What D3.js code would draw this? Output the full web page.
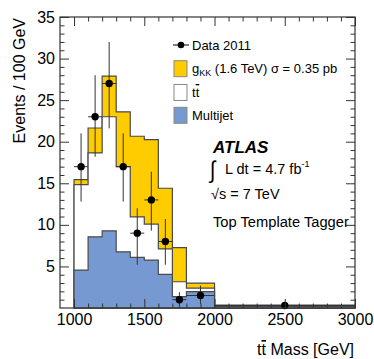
<!DOCTYPE html>
<html>
<head>
<meta charset="utf-8">
<script src="https://cdn.jsdelivr.net/npm/d3@7"></script>
<style>
  body { margin: 0; background: #fff; }
  text { font-family: "Liberation Sans", Arial, Helvetica, sans-serif; fill: #000; }
</style>
</head>
<body>
<div id="chart"></div>
<script>
// bin edges (GeV), last bins are wider; values are events / 100 GeV
const binEdges = [1000, 1100, 1200, 1300, 1400, 1500, 1600, 1700, 1800, 2000, 3000];
const multijet = [4.56, 8.56, 9.28, 6.76, 6.08, 5.76, 4.04, 1.36, 1.96, 0.2];
const ttbar    = [10.29, 10.09, 13.72, 10.24, 4.88, 4.34, 3.06, 1.8, 0.44, 0.1];
const gkk      = [0.6, 3.0, 4.9, 6.6, 9.7, 10.15, 7.3, 4.1, 0.6, 0.05];

const dataX  = [1050, 1150, 1250, 1350, 1450, 1550, 1650, 1750, 1900, 2500];
const dataY  = [17, 23, 27, 17, 9, 13, 8, 1, 1.5, 0.3];
const dataLo = [12.8, 18.2, 21.6, 12.8, 5.2, 9.3, 5.2, 0, 0.5, 0.1];
const dataHi = [21.0, 28.0, 32.0, 21.0, 12.0, 16.4, 10.7, 1.9, 2.7, 0.5];

const xMajor = [1000, 1500, 2000, 2500, 3000];
const yMajor = [5, 10, 15, 20, 25, 30, 35];

const W = 374, H = 359;
const mLeft = 60, mRight = 355, mTop = 17, mBottom = 308;

const svg = d3.select("#chart").append("svg")
    .attr("width", W)
    .attr("height", H);

const x = d3.scaleLinear().domain([900, 3000]).range([mLeft, mRight]);
const y = d3.scaleLinear().domain([0, 35]).range([mBottom, mTop]);

// stacked histograms, drawn from the top of the stack down
function stepData(vals) {
    let pts = vals.map((v, i) => ({x: binEdges[i], v: v}));
    pts.push({x: binEdges[binEdges.length - 1], v: vals[vals.length - 1]});
    return pts;
}
const area = d3.area()
    .curve(d3.curveStepAfter)
    .x(d => x(d.x))
    .y0(y(0))
    .y1(d => y(d.v));

const sumMT = multijet.map((m, i) => m + ttbar[i]);
const sumAll = sumMT.map((s, i) => s + gkk[i]);

const layers = [
    {vals: sumAll, fill: "#ffcc00"},
    {vals: sumMT, fill: "#ffffff"},
    {vals: multijet, fill: "#7799d2"}
];
layers.forEach(l => {
    svg.append("path")
        .datum(stepData(l.vals))
        .attr("d", area)
        .attr("fill", l.fill)
        .attr("stroke", "#4a4a4a")
        .attr("stroke-width", 1.2);
});

// data points
const pts = svg.append("g");
dataX.forEach((d, i) => {
    let lo = binEdges.find((e, j) => e <= d && binEdges[j + 1] > d);
    let hi = binEdges[binEdges.indexOf(lo) + 1];
    pts.append("line")
        .attr("x1", x(d)).attr("x2", x(d))
        .attr("y1", y(dataLo[i])).attr("y2", y(dataHi[i]))
        .attr("stroke", "#333").attr("stroke-width", 1);
    pts.append("line")
        .attr("x1", x(lo)).attr("x2", x(hi))
        .attr("y1", y(dataY[i])).attr("y2", y(dataY[i]))
        .attr("stroke", "#333").attr("stroke-width", 1);
    pts.append("circle")
        .attr("cx", x(d)).attr("cy", y(dataY[i]))
        .attr("r", 3.7)
        .attr("fill", "#000");
});

// frame and ticks (ROOT style, inside, on all four sides)
const xMinor = d3.range(1000, 3001, 100).filter(v => xMajor.indexOf(v) < 0);
const yMinor = d3.range(1, 35, 1).filter(v => v % 5 != 0);

function styleAxis(g) {
    g.select(".domain").remove();
    g.selectAll("line").attr("stroke", "#333");
    g.selectAll("text").attr("font-size", 16).attr("font-family", "Liberation Sans, Arial, sans-serif");
}

svg.append("g").attr("transform", "translate(0," + mBottom + ")")
    .call(d3.axisBottom(x).tickValues(xMajor).tickSize(-9).tickPadding(6).tickFormat(d3.format("d")))
    .call(styleAxis);
svg.append("g").attr("transform", "translate(0," + mBottom + ")")
    .call(d3.axisBottom(x).tickValues(xMinor).tickSize(-4.5).tickFormat(""))
    .call(styleAxis);
svg.append("g").attr("transform", "translate(0," + mTop + ")")
    .call(d3.axisTop(x).tickValues(xMajor).tickSize(-9).tickFormat(""))
    .call(styleAxis);
svg.append("g").attr("transform", "translate(0," + mTop + ")")
    .call(d3.axisTop(x).tickValues(xMinor).tickSize(-4.5).tickFormat(""))
    .call(styleAxis);

svg.append("g").attr("transform", "translate(" + mLeft + ",0)")
    .call(d3.axisLeft(y).tickValues(yMajor).tickSize(-9).tickPadding(5))
    .call(styleAxis);
svg.append("g").attr("transform", "translate(" + mLeft + ",0)")
    .call(d3.axisLeft(y).tickValues(yMinor).tickSize(-4.5).tickFormat(""))
    .call(styleAxis);
svg.append("g").attr("transform", "translate(" + mRight + ",0)")
    .call(d3.axisRight(y).tickValues(yMajor).tickSize(-9).tickFormat(""))
    .call(styleAxis);
svg.append("g").attr("transform", "translate(" + mRight + ",0)")
    .call(d3.axisRight(y).tickValues(yMinor).tickSize(-4.5).tickFormat(""))
    .call(styleAxis);

svg.append("rect")
    .attr("x", mLeft).attr("y", mTop)
    .attr("width", mRight - mLeft).attr("height", mBottom - mTop)
    .attr("fill", "none")
    .attr("stroke", "#333")
    .attr("stroke-width", 1.2);

// axis titles
svg.append("text")
    .attr("transform", "translate(25,18) rotate(-90)")
    .attr("text-anchor", "end")
    .attr("font-size", 16)
    .text("Events / 100 GeV");

const xt = svg.append("text")
    .attr("x", 354).attr("y", 355)
    .attr("text-anchor", "end")
    .attr("font-size", 16);
xt.append("tspan").text("t");
xt.append("tspan").attr("text-decoration", "overline").text("t");
xt.append("tspan").text(" Mass [GeV]");

// legend
const leg = svg.append("g").attr("font-size", 13);
leg.append("line").attr("x1", 173).attr("x2", 189).attr("y1", 45).attr("y2", 45)
    .attr("stroke", "#000").attr("stroke-width", 1);
leg.append("circle").attr("cx", 181).attr("cy", 45).attr("r", 3.3).attr("fill", "#000");
leg.append("text").attr("x", 192).attr("y", 49.5).text("Data 2011");

const boxes = [
    {cy: 68.7, fill: "#ffcc00"},
    {cy: 92.5, fill: "#ffffff"},
    {cy: 115.3, fill: "#7799d2"}
];
boxes.forEach(b => {
    leg.append("rect")
        .attr("x", 174).attr("y", b.cy - 8)
        .attr("width", 13).attr("height", 16)
        .attr("fill", b.fill)
        .attr("stroke", "#888").attr("stroke-width", 1);
});
const g1 = leg.append("text").attr("x", 192).attr("y", 73.2);
g1.append("tspan").text("g");
g1.append("tspan").attr("font-size", 9).attr("dy", 3).text("KK");
g1.append("tspan").attr("dy", -3).text(" (1.6 TeV) \u03c3 = 0.35 pb");

const t1 = leg.append("text").attr("x", 192).attr("y", 97);
t1.append("tspan").text("t");
t1.append("tspan").attr("text-decoration", "overline").text("t");

leg.append("text").attr("x", 192).attr("y", 119.5).text("Multijet");

// ATLAS label block
svg.append("text")
    .attr("x", 213).attr("y", 153)
    .attr("font-size", 17)
    .attr("font-weight", "bold")
    .attr("font-style", "italic")
    .text("ATLAS");

svg.append("text")
    .attr("transform", "translate(210,178) scale(1,1.2)")
    .attr("font-size", 20)
    .attr("font-family", "DejaVu Sans")
    .text("\u222b");

const lum = svg.append("text").attr("x", 225).attr("y", 174).attr("font-size", 14.5);
lum.append("tspan").text("L dt = 4.7 fb");
lum.append("tspan").attr("font-size", 9).attr("dy", -7).text("-1");

svg.append("text")
    .attr("x", 211).attr("y", 198.5)
    .attr("font-size", 14.5)
    .text("\u221as = 7 TeV");

svg.append("text")
    .attr("x", 213).attr("y", 226.5)
    .attr("font-size", 14.7)
    .text("Top Template Tagger");
</script>
</body>
</html>
